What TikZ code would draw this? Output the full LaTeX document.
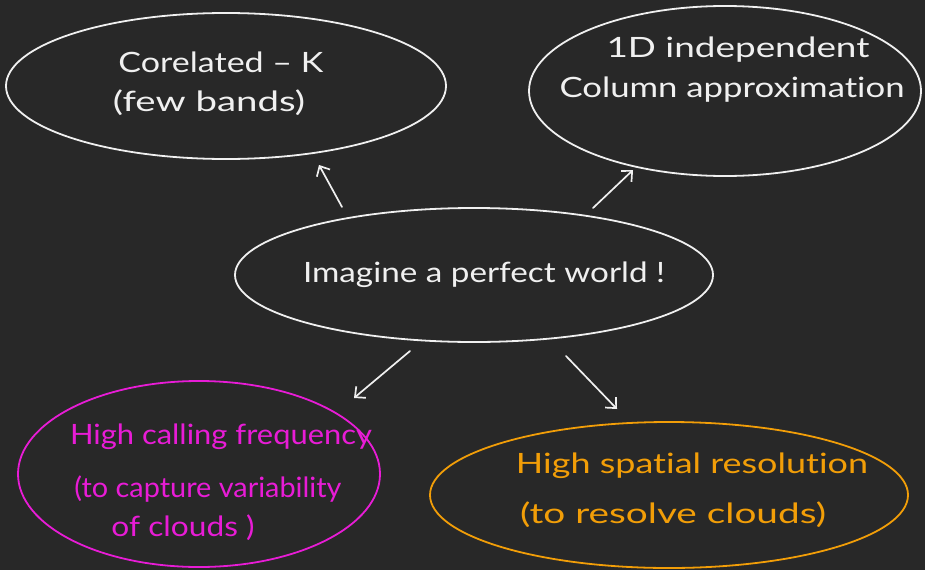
\documentclass[tikz,border=0pt]{standalone}
\usepackage{fontspec}
\setmainfont{Lato}[Ligatures={NoCommon}]
\usetikzlibrary{arrows.meta,shapes.geometric}
\definecolor{board}{RGB}{40,40,40}
\definecolor{chalk}{RGB}{240,240,240}
\definecolor{chalkpink}{RGB}{232,28,214}
\definecolor{chalkorange}{RGB}{242,158,8}
\newcommand{\hw}[2]{\resizebox{#1pt}{\height}{#2}}
\begin{document}
\begin{tikzpicture}[x=1pt,y=-1pt,
  bubble/.style={ellipse, draw, line width=1.8pt, inner sep=0pt, outer sep=0pt},
  txt/.style={inner sep=0pt, font=\fontsize{28}{32}\selectfont},
  chalkarrow/.style={draw=chalk, line width=1.7pt, line cap=round, -{Straight Barb[length=8pt,width=15pt,line width=1.7pt]}}]
\fill[board] (0,0) rectangle (925,570);
\useasboundingbox (0,0) rectangle (925,570);

% ellipses
\node[bubble, draw=chalk, minimum width=440pt, minimum height=146pt] (ck) at (226,86) {};
\node[bubble, draw=chalk, minimum width=392pt, minimum height=170pt] (ica) at (725,91) {};
\node[bubble, draw=chalk, minimum width=478pt, minimum height=134pt] (pw) at (474,275) {};
\node[bubble, draw=chalkpink, minimum width=362pt, minimum height=186pt] (hcf) at (199,474) {};
\node[bubble, draw=chalkorange, minimum width=478pt, minimum height=146pt] (hsr) at (669,495) {};

% texts
\node[txt, text=chalk] (ck1) at (221,62) {\hw{205}{Corelated – K}};
\node[txt, text=chalk] (ck2) at (209,103) {\hw{192}{(few bands)}};
\node[txt, text=chalk] (ica1) at (738,50) {\hw{263}{1D independent}};
\node[txt, text=chalk] (ica2) at (732,90) {\hw{345}{Column approximation}};
\node[txt, text=chalk] (pw1) at (484,275) {\hw{362}{Imagine a perfect world !}};
\node[txt, text=chalkpink] (hcf1) at (221,437) {\hw{302}{High calling frequency}};
\node[txt, text=chalkpink] (hcf2) at (208,489) {\hw{267}{(to capture variability}};
\node[txt, text=chalkpink] (hcf3) at (183,528) {\hw{143}{of clouds )}};
\node[txt, text=chalkorange] (hsr1) at (692,466) {\hw{352}{High spatial resolution}};
\node[txt, text=chalkorange] (hsr2) at (673,515) {\hw{306}{(to resolve clouds)}};

% arrow ends
\coordinate (a1s) at (342,207); \coordinate (a1e) at (319,165);
\coordinate (a2s) at (593,208); \coordinate (a2e) at (633,170);
\coordinate (a3s) at (410,351); \coordinate (a3e) at (354,398);
\coordinate (a4s) at (566,356); \coordinate (a4e) at (617,409);
\draw[chalkarrow] (a1s) -- (a1e);
\draw[chalkarrow] (a2s) -- (a2e);
\draw[chalkarrow] (a3s) -- (a3e);
\draw[chalkarrow] (a4s) -- (a4e);
\end{tikzpicture}
\end{document}
